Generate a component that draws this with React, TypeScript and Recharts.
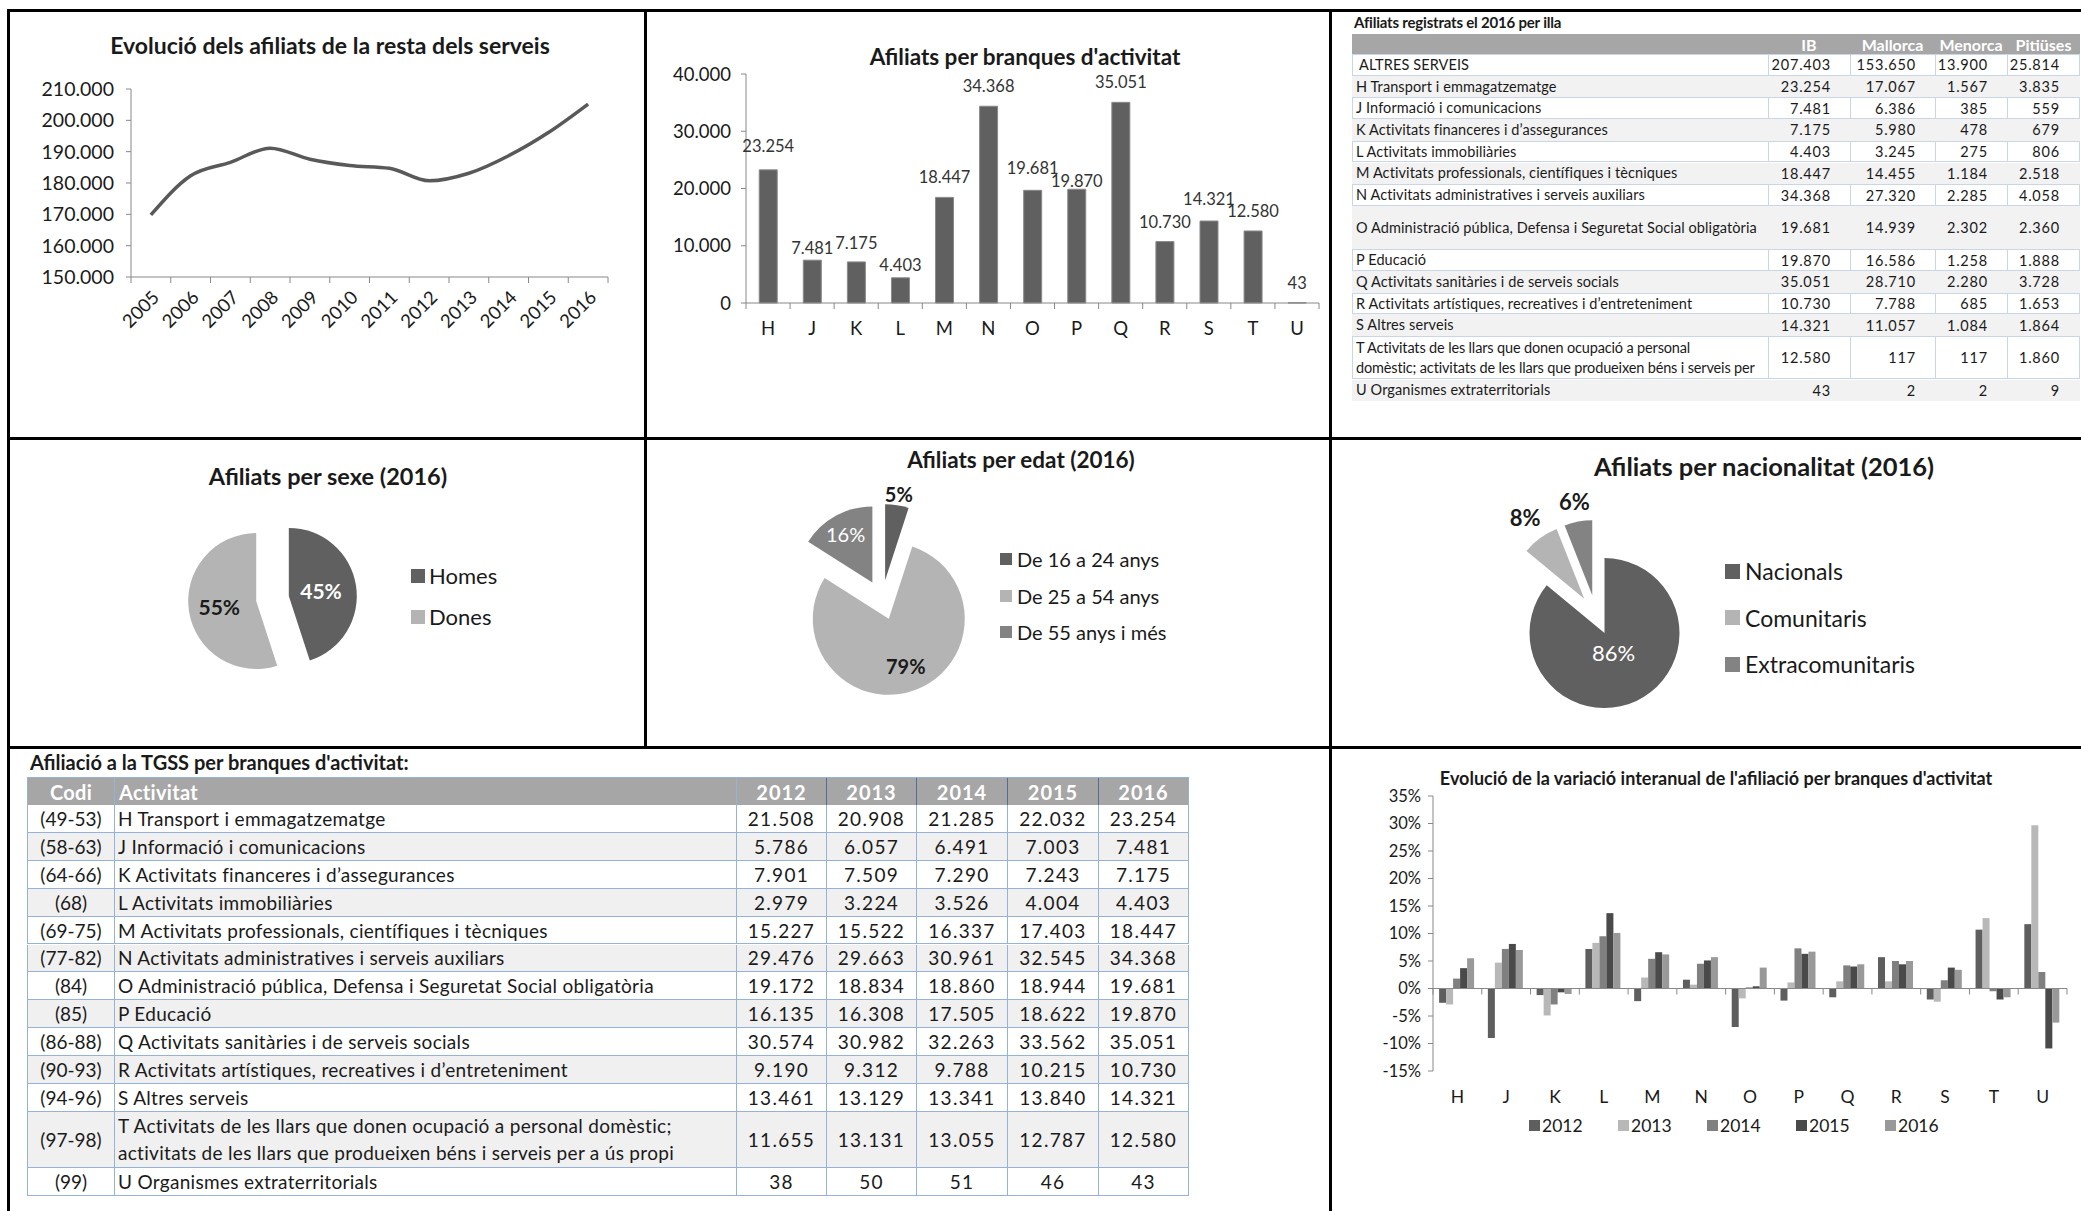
import React from 'react';
import {
  LineChart,
  Line,
  BarChart,
  Bar,
  XAxis,
  YAxis,
  LabelList,
  PieChart,
  Pie,
  Cell,
  ReferenceLine,
} from 'recharts';

const FONT = 'Lato, "Open Sans", sans-serif';
const INK = '#1a1a1a';
const AXIS = '#888888';
const DARK = '#606060';
const LIGHT = '#b4b4b4';
const MID = '#838383';

// Evolució dels afiliats de la resta dels serveis
const years = ['2005', '2006', '2007', '2008', '2009', '2010', '2011', '2012', '2013', '2014', '2015', '2016'];
const afiliatsResta = [169800, 182300, 186600, 191100, 187600, 185600, 184700, 180700, 183100, 188700, 196100, 205200];
const restaTicks = [150000, 160000, 170000, 180000, 190000, 200000, 210000];

// Afiliats per branques d'activitat (2016)
const branques = ['H', 'J', 'K', 'L', 'M', 'N', 'O', 'P', 'Q', 'R', 'S', 'T', 'U'];
const afiliatsBranca = [23254, 7481, 7175, 4403, 18447, 34368, 19681, 19870, 35051, 10730, 14321, 12580, 43];
const brancaTicks = [0, 10000, 20000, 30000, 40000];

// Activitats (fitxa TGSS)
const codis = ['(49-53)', '(58-63)', '(64-66)', '(68)', '(69-75)', '(77-82)', '(84)', '(85)', '(86-88)', '(90-93)', '(94-96)', '(97-98)', '(99)'];
const activitats = [
  'H Transport i emmagatzematge',
  'J Informació i comunicacions',
  'K Activitats financeres i d’assegurances',
  'L Activitats immobiliàries',
  'M Activitats professionals, científiques i tècniques',
  'N Activitats administratives i serveis auxiliars',
  'O Administració pública, Defensa i Seguretat Social obligatòria',
  'P Educació',
  'Q Activitats sanitàries i de serveis socials',
  'R Activitats artístiques, recreatives i d’entreteniment',
  'S Altres serveis',
  'T Activitats de les llars que donen ocupació a personal domèstic; activitats de les llars que produeixen béns i serveis per a ús propi',
  'U Organismes extraterritorials',
];
const tgssAnys = ['2012', '2013', '2014', '2015', '2016'];
const tgss2012 = [21508, 5786, 7901, 2979, 15227, 29476, 19172, 16135, 30574, 9190, 13461, 11655, 38];
const tgss2013 = [20908, 6057, 7509, 3224, 15522, 29663, 18834, 16308, 30982, 9312, 13129, 13131, 50];
const tgss2014 = [21285, 6491, 7290, 3526, 16337, 30961, 18860, 17505, 32263, 9788, 13341, 13055, 51];
const tgss2015 = [22032, 7003, 7243, 4004, 17403, 32545, 18944, 18622, 33562, 10215, 13840, 12787, 46];
const tgss2016 = [23254, 7481, 7175, 4403, 18447, 34368, 19681, 19870, 35051, 10730, 14321, 12580, 43];

// Afiliats registrats el 2016 per illa
const illes = ['IB', 'Mallorca', 'Menorca', 'Pitiüses'];
const illaFiles = ['ALTRES SERVEIS', ...activitats];
const illaIB = [207403, 23254, 7481, 7175, 4403, 18447, 34368, 19681, 19870, 35051, 10730, 14321, 12580, 43];
const illaMallorca = [153650, 17067, 6386, 5980, 3245, 14455, 27320, 14939, 16586, 28710, 7788, 11057, 117, 2];
const illaMenorca = [13900, 1567, 385, 478, 275, 1184, 2285, 2302, 1258, 2280, 685, 1084, 117, 2];
const illaPitiuses = [25814, 3835, 559, 679, 806, 2518, 4058, 2360, 1888, 3728, 1653, 1864, 1860, 9];

// Pastissos 2016
const sexes = ['Homes', 'Dones'];
const sexPct = [45, 55];
const edats = ['De 16 a 24 anys', 'De 25 a 54 anys', 'De 55 anys i més'];
const edatPct = [5, 79, 16];
const nacionalitats = ['Nacionals', 'Comunitaris', 'Extracomunitaris'];
const nacPct = [86, 8, 6];

// Variació interanual (%)
const varAnys = ['2012', '2013', '2014', '2015', '2016'];
const var2012 = [-2.6, -9.0, -1.2, 7.2, -2.3, 1.6, -7.0, -2.2, -1.6, 5.7, -2.0, 10.7, 11.7];
const var2013 = [-2.9, 4.7, -4.9, 8.3, 2.0, 0.7, -1.8, 1.1, 1.3, 1.3, -2.4, 12.8, 29.7];
const var2014 = [1.8, 7.2, -2.9, 9.5, 5.4, 4.5, 0.2, 7.3, 4.2, 5.0, 1.5, -0.5, 3.0];
const var2015 = [3.7, 8.1, -0.7, 13.7, 6.6, 5.1, 0.4, 6.3, 4.0, 4.4, 3.8, -2.0, -10.9];
const var2016 = [5.5, 7.0, -1.0, 10.1, 6.2, 5.7, 3.8, 6.7, 4.4, 5.0, 3.4, -1.6, -6.2];
const varTicks = [-15, -10, -5, 0, 5, 10, 15, 20, 25, 30, 35];
const varColors = ['#5e5e5e', '#b8b8b8', '#808080', '#4a4a4a', '#999999'];

const fmt = (n: number) => String(n).replace(/\B(?=(\d{3})+(?!\d))/g, '.');

type Box = { left: number; top: number; width: number; height: number };
type Plot = { x0: number; x1: number; y0: number; y1: number };

const plotMargin = (box: Box, plot: Plot, yAxisW: number, xAxisH: number) => ({
  top: plot.y0 - box.top,
  left: plot.x0 - box.left - yAxisW,
  right: box.left + box.width - plot.x1,
  bottom: box.top + box.height - plot.y1 - xAxisH,
});

function Title({ x, y, size, children }: { x: number; y: number; size: number; children: React.ReactNode }) {
  return (
    <div
      style={{
        position: 'absolute',
        left: x,
        top: y,
        transform: 'translate(-50%, -50%)',
        fontSize: size,
        fontWeight: 700,
        whiteSpace: 'nowrap',
        color: INK,
        lineHeight: 1,
      }}
    >
      {children}
    </div>
  );
}

// tick with marks on category boundaries (Excel style)
function makeTick(opts: { half: number; gap: number; count: number; size: number; rotate?: boolean; markY?: number }) {
  return function CatTick(props: any) {
    const { x, y, payload, index } = props;
    const my = opts.markY ?? y - opts.gap;
    const marks = [x - opts.half];
    if (index === opts.count - 1) marks.push(x + opts.half);
    const tx = opts.rotate ? x + 5 : x;
    return (
      <g>
        {marks.map((mx) => (
          <line key={mx} x1={mx} x2={mx} y1={my} y2={my + 6} stroke={AXIS} />
        ))}
        {opts.rotate ? (
          <text x={tx} y={y} dy="0.35em" textAnchor="end" transform={`rotate(-45 ${tx} ${y})`} fill={INK} fontSize={opts.size} fontFamily={FONT}>
            {payload.value}
          </text>
        ) : (
          <text x={tx} y={y} dy="0.71em" textAnchor="middle" fill={INK} fontSize={opts.size} fontFamily={FONT}>
            {payload.value}
          </text>
        )}
      </g>
    );
  };
}

// ---------- line chart ----------
const L_BOX: Box = { left: 12, top: 16, width: 628, height: 418 };
const L_PLOT: Plot = { x0: 131, x1: 608, y0: 89, y1: 277 };
const L_HALF = (L_PLOT.x1 - L_PLOT.x0) / years.length / 2;
const YearTick = makeTick({ half: L_HALF, gap: 17, count: years.length, size: 18.5, rotate: true });

function RestaChart() {
  const data = years.map((year, i) => ({ year, afiliats: afiliatsResta[i] }));
  return (
    <div style={{ position: 'absolute', left: L_BOX.left, top: L_BOX.top }}>
      <LineChart width={L_BOX.width} height={L_BOX.height} data={data} margin={plotMargin(L_BOX, L_PLOT, 80, 60)}>
        <XAxis
          dataKey="year"
          padding={{ left: L_HALF, right: L_HALF }}
          stroke={AXIS}
          tickLine={false}
          tickSize={0}
          tickMargin={17}
          height={60}
          interval={0}
          tick={<YearTick />}
        />
        <YAxis
          domain={[restaTicks[0], restaTicks[restaTicks.length - 1]]}
          ticks={restaTicks}
          tickFormatter={fmt}
          width={80}
          stroke={AXIS}
          tickSize={5}
          tickMargin={12}
          tick={{ fill: INK, fontSize: 19.5, fontFamily: FONT }}
        />
        <Line type="monotone" dataKey="afiliats" stroke="#595959" strokeWidth={3.5} dot={false} isAnimationActive={false} />
      </LineChart>
    </div>
  );
}

// ---------- bar chart branques ----------
const B_BOX: Box = { left: 650, top: 16, width: 676, height: 418 };
const B_PLOT: Plot = { x0: 746, x1: 1319, y0: 74, y1: 303 };
const B_HALF = (B_PLOT.x1 - B_PLOT.x0) / branques.length / 2;
const BranchTick = makeTick({ half: B_HALF, gap: 19, count: branques.length, size: 18.5 });
// extra lift of some value labels (as they were placed in the source chart)
const LABEL_LIFT = [4, -8, -1, -7, 0, 0, 2, -12, 0, 0, 2, 0, 0];

function BarValue(p: any) {
  const lift = 20 + (LABEL_LIFT[p.index] ?? 0);
  return (
    <text x={p.x + p.width / 2} y={p.y - lift} textAnchor="middle" dominantBaseline="central" fill="#333" fontSize={16.5} fontFamily={FONT}>
      {fmt(Number(p.value))}
    </text>
  );
}

function BranquesChart() {
  const data = branques.map((code, i) => ({ code, value: afiliatsBranca[i] }));
  return (
    <div style={{ position: 'absolute', left: B_BOX.left, top: B_BOX.top }}>
      <BarChart width={B_BOX.width} height={B_BOX.height} data={data} margin={plotMargin(B_BOX, B_PLOT, 70, 40)} barCategoryGap="30%">
        <XAxis dataKey="code" stroke={AXIS} tickLine={false} tickSize={0} tickMargin={19} height={40} interval={0} tick={<BranchTick />} />
        <YAxis
          domain={[0, 40000]}
          ticks={brancaTicks}
          tickFormatter={fmt}
          width={70}
          stroke={AXIS}
          tickSize={5}
          tickMargin={10}
          tick={{ fill: INK, fontSize: 18.5, fontFamily: FONT }}
        />
        <Bar dataKey="value" fill={DARK} stroke="#8a8a8a" strokeWidth={1} isAnimationActive={false}>
          <LabelList dataKey="value" content={<BarValue />} />
        </Bar>
      </BarChart>
    </div>
  );
}

// ---------- island table ----------
const IT = { left: 1352, top: 34, headH: 20, rowH: 21.7, cols: [416, 82, 85, 72, 73] };
const IT_TALL = new Set([7, 12]);

// the narrow label cell only shows the first part of the long T label
const islandLines = (label: string) =>
  label.includes(' personal ') ? label.replace(' a ús propi', '').split(/(?<= personal) /) : [label];

function IslandTable() {
  let y = IT.top + IT.headH;
  const cols = [illaIB, illaMallorca, illaMenorca, illaPitiuses];
  return (
    <>
      <div style={{ position: 'absolute', left: 1354, top: 13, fontSize: 15, fontWeight: 700, color: INK, letterSpacing: -0.2, whiteSpace: 'nowrap' }}>
        Afiliats registrats el 2016 per illa
      </div>
      <div style={{ position: 'absolute', left: IT.left, top: IT.top, height: IT.headH, display: 'flex', background: '#a6a6a6' }}>
        {['', ...illes].map((h, j) => (
          <div key={j} style={{ width: IT.cols[j], height: IT.headH, display: 'flex', alignItems: 'center', justifyContent: 'center', color: '#fff', fontWeight: 700, fontSize: 16 }}>
            {h}
          </div>
        ))}
      </div>
      {illaFiles.map((label, i) => {
        const h = IT.rowH * (IT_TALL.has(i) ? 2 : 1);
        const white = i % 2 === 0;
        const top = y;
        y += h;
        const lines = islandLines(label);
        const border = white ? '1px solid #c9d6e6' : '1px solid transparent';
        return (
          <div key={label} style={{ position: 'absolute', left: IT.left, top, height: h, display: 'flex', background: white ? '#fff' : '#f2f2f2', color: INK }}>
            <div
              style={{
                width: IT.cols[0],
                height: h,
                boxSizing: 'border-box',
                borderLeft: border,
                borderTop: border,
                borderBottom: border,
                paddingLeft: i === 0 ? 6 : 3,
                display: 'flex',
                flexDirection: 'column',
                justifyContent: 'center',
                fontSize: 14.5,
                letterSpacing: lines.length > 1 ? -0.15 : 0.1,
              }}
            >
              {lines.map((ln) => (
                <div key={ln} style={{ whiteSpace: 'nowrap', lineHeight: '20px' }}>
                  {ln}
                </div>
              ))}
            </div>
            {cols.map((c, j) => (
              <div
                key={j}
                style={{
                  width: IT.cols[j + 1],
                  height: h,
                  boxSizing: 'border-box',
                  borderLeft: border,
                  borderTop: border,
                  borderBottom: border,
                  borderRight: j === cols.length - 1 ? border : undefined,
                  paddingRight: 19,
                  display: 'flex',
                  alignItems: 'center',
                  justifyContent: 'flex-end',
                  fontSize: 14.5,
                  letterSpacing: 0.8,
                }}
              >
                {fmt(c[i])}
              </div>
            ))}
          </div>
        );
      })}
    </>
  );
}

// ---------- exploded pies ----------
type PieSpec = {
  box: Box;
  cx: number;
  cy: number;
  r: number;
  explode: number;
  names: string[];
  values: number[];
  colors: string[];
  labelR: number[];
  labelFill: string[];
  labelWeight: number[];
  labelSize: number;
};

const sliceLabel = (spec: PieSpec, k: number) => (p: any) => {
  if (p.index !== k) return null;
  const a = (-p.midAngle * Math.PI) / 180;
  const R = p.outerRadius * spec.labelR[k];
  return (
    <text
      x={p.cx + R * Math.cos(a)}
      y={p.cy + R * Math.sin(a)}
      textAnchor="middle"
      dominantBaseline="central"
      fill={spec.labelFill[k]}
      fontWeight={spec.labelWeight[k]}
      fontSize={spec.labelSize}
      fontFamily={FONT}
    >
      {`${p.value}%`}
    </text>
  );
};

function ExplodedPie({ spec }: { spec: PieSpec }) {
  const { box, cx, cy, r, explode, names, values, colors } = spec;
  const data = names.map((name, i) => ({ name, value: values[i] }));
  const total = values.reduce((a, b) => a + b, 0);
  let acc = 0;
  const shifts = values.map((v) => {
    const mid = ((acc + v / 2) / total) * 2 * Math.PI;
    acc += v;
    return { dx: Math.sin(mid) * explode, dy: -Math.cos(mid) * explode };
  });
  return (
    <div style={{ position: 'absolute', left: box.left, top: box.top }}>
      <PieChart width={box.width} height={box.height} margin={{ top: 0, right: 0, bottom: 0, left: 0 }}>
        {shifts.map((s, k) => (
          <Pie
            key={k}
            data={data}
            dataKey="value"
            nameKey="name"
            cx={cx + s.dx}
            cy={cy + s.dy}
            outerRadius={r}
            startAngle={90}
            endAngle={-270}
            stroke="none"
            isAnimationActive={false}
            labelLine={false}
            label={sliceLabel(spec, k)}
          >
            {data.map((d, i) => (
              <Cell key={d.name} fill={i === k ? colors[i] : 'none'} />
            ))}
          </Pie>
        ))}
      </PieChart>
    </div>
  );
}

function SwatchLegend(props: { x: number; y: number; names: string[]; colors: string[]; rowH: number; square: number; gap: number; fontSize: number }) {
  const { x, y, names, colors, rowH, square, gap, fontSize } = props;
  return (
    <div style={{ position: 'absolute', left: x, top: y }}>
      {names.map((n, i) => (
        <div key={n} style={{ height: rowH, display: 'flex', alignItems: 'center', fontSize, color: INK, whiteSpace: 'nowrap' }}>
          <span style={{ width: square, height: square, background: colors[i], marginRight: gap, display: 'inline-block' }} />
          {n}
        </div>
      ))}
    </div>
  );
}

const sexSpec: PieSpec = {
  box: { left: 10, top: 441, width: 634, height: 305 },
  cx: 262.5,
  cy: 157.5,
  r: 68,
  explode: 16.5,
  names: sexes,
  values: sexPct,
  colors: [DARK, LIGHT],
  labelR: [0.48, 0.55],
  labelFill: ['#fff', INK],
  labelWeight: [700, 700],
  labelSize: 21,
};
const edatSpec: PieSpec = {
  box: { left: 647, top: 441, width: 682, height: 305 },
  cx: 235,
  cy: 159,
  r: 76,
  explode: 20,
  names: edats,
  values: edatPct,
  colors: [DARK, LIGHT, MID],
  labelR: [1.15, 0.66, 0.73],
  labelFill: [INK, INK, '#fff'],
  labelWeight: [700, 700, 400],
  labelSize: 20,
};
const nacSpec: PieSpec = {
  box: { left: 1332, top: 441, width: 749, height: 305 },
  cx: 264,
  cy: 174,
  r: 75,
  explode: 20,
  names: nacionalitats,
  values: nacPct,
  colors: [DARK, LIGHT, MID],
  labelR: [0.28, 1.34, 1.27],
  labelFill: ['#fff', INK, INK],
  labelWeight: [400, 700, 700],
  labelSize: 22,
};

// ---------- TGSS table ----------
const TT = { left: 27, top: 777, headH: 28, rowH: 27.9, cols: [87, 622, 90, 90, 91, 91, 91] };
const TT_TALL = new Set([11]);
const BLUE = '#95b3d7';

function TgssTable() {
  const years = [tgss2012, tgss2013, tgss2014, tgss2015, tgss2016];
  let y = TT.top + TT.headH;
  const cell = (w: number, h: number, extra: React.CSSProperties = {}) => ({
    width: w,
    height: h,
    boxSizing: 'border-box' as const,
    borderLeft: `1px solid ${BLUE}`,
    borderBottom: `1px solid ${BLUE}`,
    display: 'flex',
    alignItems: 'center',
    ...extra,
  });
  return (
    <>
      <div style={{ position: 'absolute', left: 30, top: 752, fontSize: 20, fontWeight: 700, color: INK, whiteSpace: 'nowrap', lineHeight: 1 }}>
        Afiliació a la TGSS per branques d'activitat:
      </div>
      <div style={{ position: 'absolute', left: TT.left, top: TT.top, display: 'flex', background: '#a6a6a6', borderTop: `1px solid ${BLUE}`, color: '#fff', fontWeight: 700, fontSize: 20 }}>
        {['Codi', 'Activitat', ...tgssAnys].map((h, j) => (
          <div
            key={h}
            style={cell(TT.cols[j], TT.headH, {
              justifyContent: j === 1 ? 'flex-start' : 'center',
              paddingLeft: j === 1 ? 4 : 0,
              letterSpacing: j > 1 ? 1 : 0.3,
              borderLeft: j > 2 ? '1px solid #4f6f99' : `1px solid ${BLUE}`,
              borderRight: j === 6 ? `1px solid ${BLUE}` : undefined,
            })}
          >
            {h}
          </div>
        ))}
      </div>
      {activitats.map((act, i) => {
        const h = TT.rowH * (TT_TALL.has(i) ? 2 : 1);
        const top = y;
        y += h;
        return (
          <div key={act} style={{ position: 'absolute', left: TT.left, top, display: 'flex', background: i % 2 === 0 ? '#fff' : '#f0f0f0', fontSize: 19, color: INK }}>
            <div style={cell(TT.cols[0], h, { justifyContent: 'center' })}>{codis[i]}</div>
            <div style={cell(TT.cols[1], h, { paddingLeft: 3, letterSpacing: 0.3 })}>
              <div style={{ whiteSpace: 'pre-line', lineHeight: '27px' }}>{act.replace('domèstic; ', 'domèstic;\n')}</div>
            </div>
            {years.map((col, j) => (
              <div key={j} style={cell(TT.cols[j + 2], h, { justifyContent: 'center', letterSpacing: 1.3, borderRight: j === 4 ? `1px solid ${BLUE}` : undefined })}>
                {fmt(col[i])}
              </div>
            ))}
          </div>
        );
      })}
    </>
  );
}

// ---------- variation chart ----------
const V_BOX: Box = { left: 1336, top: 762, width: 740, height: 420 };
const V_PLOT: Plot = { x0: 1433, x1: 2067, y0: 796, y1: 1071 };
const V_HALF = (V_PLOT.x1 - V_PLOT.x0) / branques.length / 2;
const V_MAX = varTicks[varTicks.length - 1];
const V_MIN = varTicks[0];
const V_ZERO = V_PLOT.y0 - V_BOX.top + (V_MAX / (V_MAX - V_MIN)) * (V_PLOT.y1 - V_PLOT.y0);
const VarTick = makeTick({ half: V_HALF, gap: 20, count: branques.length, size: 17.5, markY: V_ZERO });

function VariacioChart() {
  const series = [var2012, var2013, var2014, var2015, var2016];
  const data = branques.map((code, i) => {
    const row: Record<string, number | string> = { code };
    varAnys.forEach((a, j) => {
      row[`y${a}`] = series[j][i];
    });
    return row;
  });
  return (
    <div style={{ position: 'absolute', left: V_BOX.left, top: V_BOX.top }}>
      <BarChart width={V_BOX.width} height={V_BOX.height} data={data} margin={plotMargin(V_BOX, V_PLOT, 60, 40)} barGap={0} barCategoryGap="12.5%">
        <XAxis dataKey="code" axisLine={false} tickLine={false} tickSize={0} tickMargin={20} height={40} interval={0} tick={<VarTick />} />
        <YAxis
          domain={[V_MIN, V_MAX]}
          ticks={varTicks}
          tickFormatter={(v: number) => `${v}%`}
          width={60}
          stroke={AXIS}
          tickSize={5}
          tickMargin={7}
          tick={{ fill: INK, fontSize: 16.5, fontFamily: FONT }}
        />
        <ReferenceLine y={0} stroke={AXIS} />
        {varAnys.map((a, j) => (
          <Bar key={a} dataKey={`y${a}`} name={a} fill={varColors[j]} isAnimationActive={false} />
        ))}
      </BarChart>
    </div>
  );
}

function VarLegend() {
  return (
    <div style={{ position: 'absolute', left: 1529, top: 1115, display: 'flex', fontSize: 17.5, color: INK }}>
      {varAnys.map((a, j) => (
        <div key={a} style={{ width: 89, height: 20, display: 'flex', alignItems: 'center' }}>
          <span style={{ width: 11, height: 11, background: varColors[j], marginRight: 2, display: 'inline-block' }} />
          {a}
        </div>
      ))}
    </div>
  );
}

const frameLines = [
  { left: 7, top: 9, width: 2074, height: 3 },
  { left: 7, top: 9, width: 3, height: 1202 },
  { left: 644, top: 9, width: 3, height: 740 },
  { left: 1329, top: 9, width: 3, height: 1202 },
  { left: 7, top: 437, width: 2074, height: 3 },
  { left: 7, top: 746, width: 2074, height: 3 },
];

export default function App() {
  return (
    <div style={{ position: 'absolute', left: 0, top: 0, width: 2081, height: 1211, background: '#fff', overflow: 'hidden', fontFamily: FONT, color: INK }}>
      {frameLines.map((l, i) => (
        <div key={i} style={{ position: 'absolute', background: '#000', ...l }} />
      ))}

      <Title x={330} y={45} size={23}>
        Evolució dels afiliats de la resta dels serveis
      </Title>
      <RestaChart />

      <Title x={1025} y={57} size={22.5}>
        Afiliats per branques d'activitat
      </Title>
      <BranquesChart />

      <IslandTable />

      <Title x={328} y={477} size={23.5}>
        Afiliats per sexe (2016)
      </Title>
      <ExplodedPie spec={sexSpec} />
      <SwatchLegend x={411} y={555} names={sexes} colors={sexSpec.colors} rowH={41} square={14} gap={4} fontSize={22} />

      <Title x={1021} y={460} size={22.5}>
        Afiliats per edat (2016)
      </Title>
      <ExplodedPie spec={edatSpec} />
      <SwatchLegend x={1000} y={541} names={edats} colors={edatSpec.colors} rowH={36.5} square={12} gap={5} fontSize={20} />

      <Title x={1764} y={467} size={25.5}>
        Afiliats per nacionalitat (2016)
      </Title>
      <ExplodedPie spec={nacSpec} />
      <SwatchLegend x={1725} y={548} names={nacionalitats} colors={nacSpec.colors} rowH={46.5} square={15} gap={5} fontSize={23} />

      <TgssTable />

      <Title x={1716} y={778} size={18}>
        Evolució de la variació interanual de l'afiliació per branques d'activitat
      </Title>
      <VariacioChart />
      <VarLegend />
    </div>
  );
}
